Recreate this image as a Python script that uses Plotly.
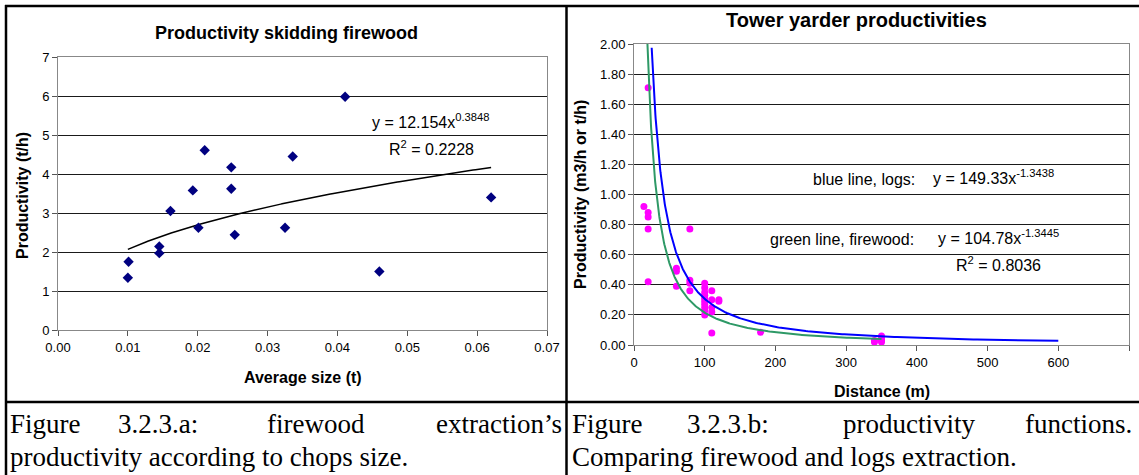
import numpy as np
import plotly.graph_objects as go

W, H = 1139, 475

# --- Skidding firewood: average chop size (t) vs productivity (t/h)
size_t = [0.0100, 0.0101, 0.0145, 0.0145, 0.0161, 0.0193, 0.0201, 0.0210,
          0.0248, 0.0248, 0.0253, 0.0325, 0.0336, 0.0411, 0.0460, 0.0620]
prod_th = [1.34, 1.75, 2.14, 1.97, 3.05, 3.58, 2.62, 4.61,
           4.17, 3.62, 2.44, 2.62, 4.45, 5.98, 1.50, 3.40]
skid_a, skid_b = 12.154, 0.3848          # power trend y = a*x^b
skid_r2 = 0.2228

# --- Tower yarder: distance (m) vs productivity (m3/h or t/h)
dist_m = [14, 20, 20, 20, 20, 20, 60, 60, 60, 79, 79, 79, 79,
          100, 100, 100, 100, 100, 100, 100, 100, 100, 100,
          110, 110, 110, 110, 110, 120, 120, 179,
          340, 340, 350, 350, 350, 350]
prod_ty = [0.92, 1.71, 0.88, 0.85, 0.77, 0.42, 0.51, 0.49, 0.39, 0.77, 0.43, 0.41, 0.36,
           0.41, 0.38, 0.35, 0.33, 0.31, 0.29, 0.27, 0.25, 0.23, 0.20,
           0.36, 0.30, 0.25, 0.22, 0.08, 0.30, 0.29, 0.085,
           0.03, 0.02, 0.06, 0.04, 0.03, 0.02]
logs_a, logs_b = 149.33, -1.3438         # blue trend, logs
fire_a, fire_b = 104.78, -1.3445         # green trend, firewood
fire_r2 = 0.8036
logs_range = (25, 600)
fire_range = (14, 350)

caption_a1 = ["Figure", "3.2.3.a:", "firewood", "extraction\u2019s"]
caption_a2 = "productivity according to chops size."
caption_b1 = ["Figure", "3.2.3.b:", "productivity", "functions."]
caption_b2 = "Comparing firewood and logs extraction."


def fx(x):
    return x / W


def fy(y):
    return 1 - y / H


def power_curve(a, b, lo, hi, n=300):
    xs = np.geomspace(lo, hi, n)
    return xs, a * xs ** b


SANS = "Liberation Sans, Arial, sans-serif"
SERIF = "Liberation Serif, Times New Roman, serif"

fig = go.Figure()

# left chart
tx, ty = power_curve(skid_a, skid_b, min(size_t), max(size_t))
fig.add_trace(go.Scatter(x=tx, y=ty, mode="lines", line=dict(color="#000000", width=1.5),
                         xaxis="x", yaxis="y", hoverinfo="skip"))
fig.add_trace(go.Scatter(x=size_t, y=prod_th, mode="markers",
                         marker=dict(symbol="diamond", size=8, color="#000080"),
                         xaxis="x", yaxis="y", cliponaxis=False))

# right chart
bx, by = power_curve(logs_a, logs_b, *logs_range)
gx, gy = power_curve(fire_a, fire_b, *fire_range)
fig.add_trace(go.Scatter(x=dist_m, y=prod_ty, mode="markers",
                         marker=dict(symbol="circle", size=7, color="#FF00FF"),
                         xaxis="x2", yaxis="y2", cliponaxis=False))
fig.add_trace(go.Scatter(x=gx, y=gy, mode="lines", line=dict(color="#2E9966", width=2),
                         xaxis="x2", yaxis="y2", hoverinfo="skip"))
fig.add_trace(go.Scatter(x=bx, y=by, mode="lines", line=dict(color="#0000FF", width=2),
                         xaxis="x2", yaxis="y2", hoverinfo="skip"))

axis_common = dict(showline=True, linecolor="#888888", linewidth=1, mirror=True,
                   ticks="outside", ticklen=5, tickcolor="#555555",
                   tickfont=dict(family=SANS, size=13, color="#000000"),
                   zeroline=False, fixedrange=True, automargin=False)

fig.update_layout(
    width=W, height=H, margin=dict(l=0, r=0, t=0, b=0, pad=0, autoexpand=False),
    paper_bgcolor="white", plot_bgcolor="white", showlegend=False,
    xaxis=dict(domain=[fx(58), fx(547)], range=[0, 0.07], dtick=0.01, tickformat=".2f",
               showgrid=False, anchor="y", **axis_common),
    yaxis=dict(domain=[fy(330), fy(57)], range=[0, 7], dtick=1,
               showgrid=True, gridcolor="#1a1a1a", gridwidth=1, anchor="x", **axis_common),
    xaxis2=dict(domain=[fx(634), fx(1129)], range=[0, 700], dtick=100,
                showgrid=False, anchor="y2", **axis_common),
    yaxis2=dict(domain=[fy(345), fy(44)], range=[0, 2], dtick=0.2, tickformat=".2f",
                showgrid=True, gridcolor="#1a1a1a", gridwidth=1, anchor="x2", **axis_common),
)

ann = []


def text(x, y, s, size, bold=False, family=SANS, xanchor="center", angle=0):
    ann.append(dict(x=fx(x), y=fy(y), xref="paper", yref="paper", text=(f"<b>{s}</b>" if bold else s),
                    showarrow=False, xanchor=xanchor, yanchor="middle", textangle=angle,
                    font=dict(family=family, size=size, color="#000000")))


# titles
text(286, 33, "Productivity skidding firewood", 18, bold=True)
text(303, 377, "Average size (t)", 16, bold=True)
text(22, 196, "Productivity (t/h)", 16, bold=True, angle=-90)
text(856, 20, "Tower yarder productivities", 20, bold=True)
text(882, 391, "Distance (m)", 16, bold=True)
text(581, 195, "Productivity (m3/h or t/h)", 16, bold=True, angle=-90)

# trend equations
text(370, 121, f"y = {skid_a}x<sup>{skid_b}</sup>", 16, xanchor="left")
text(387, 148, f"R<sup>2</sup> = {skid_r2}", 16, xanchor="left")
text(811, 179, "blue line, logs:", 16, xanchor="left")
text(931, 177, f"y = {logs_a}x<sup>{logs_b}</sup>", 16, xanchor="left")
text(768, 239, "green line, firewood:", 16, xanchor="left")
text(936, 237, f"y = {fire_a}x<sup>{fire_b}</sup>", 16, xanchor="left")
text(954, 264, f"R<sup>2</sup> = {fire_r2}", 16, xanchor="left")

# captions (first lines justified across the cell)
for word, x0 in zip(caption_a1[:3], [8, 116, 265]):
    text(x0, 424, word, 27, family=SERIF, xanchor="left")
text(564, 424, caption_a1[3], 27, family=SERIF, xanchor="right")
text(8, 457, caption_a2, 27, family=SERIF, xanchor="left")
for word, x0 in zip(caption_b1, [570, 685, 841, 1023]):
    text(x0, 424, word, 27, family=SERIF, xanchor="left")
text(570, 457, caption_b2, 27, family=SERIF, xanchor="left")

fig.update_layout(annotations=ann)

# table rules around the two figure cells
rules = [
    (5, 6, W, 6), (6, 5, 6, H), (566.5, 5, 566.5, H), (5, 402, W, 402),
]
fig.update_layout(shapes=[dict(type="line", xref="paper", yref="paper",
                               x0=fx(a), y0=fy(b), x1=fx(c), y1=fy(d),
                               line=dict(color="#000000", width=2.5)) for a, b, c, d in rules])

fig.write_html("out.html")
